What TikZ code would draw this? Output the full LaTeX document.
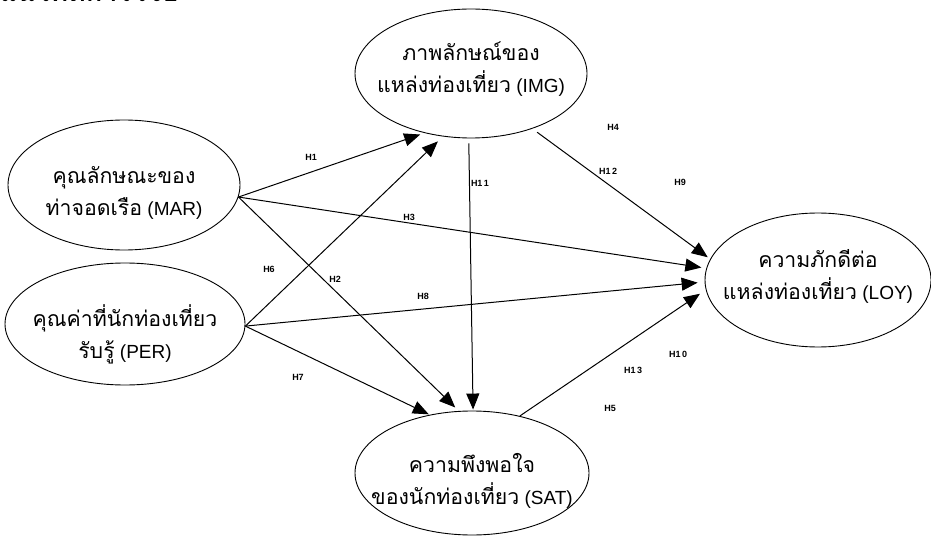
\documentclass[tikz,border=0pt]{standalone}
\usepackage{fontspec}
\setmainfont{Liberation Sans}
\newfontfamily\thaifont[Script=Thai,Scale=1.12]{Loma}
\usetikzlibrary{arrows.meta,shapes.geometric}
\tikzset{%
	construct/.style = {draw, ellipse, line width=0.9pt, inner sep=0pt},
	cname/.style     = {align=center, font=\fontsize{19}{32}\selectfont},
	hyp/.style       = {line width=1pt, -{Triangle[length=16pt,width=13pt]}},
	hlabel/.style    = {font=\fontsize{9}{10}\selectfont\bfseries, inner sep=0pt},
}

\begin{document}
\begin{tikzpicture}[x=1pt,y=-1pt]
	\clip (0,0) rectangle (931,545);
	\node[anchor=base east, font=\fontsize{24}{26}\selectfont\bfseries\thaifont] (title) at (182,2) {กรอบแนวคิดการวิจัย};
	
	% constructs
	\node[construct, minimum width=232pt, minimum height=130pt, label={[cname,yshift=-8pt]center:{\thaifont คุณลักษณะของ}\\{\thaifont ท่าจอดเรือ} (MAR)}] (mar) at (124,185) {};
	\node[construct, minimum width=240pt, minimum height=122pt, label={[cname,yshift=-10pt]center:{\thaifont คุณค่าที่นักท่องเที่ยว}\\{\thaifont รับรู้} (PER)}] (per) at (125,324) {};
	\node[construct, minimum width=232pt, minimum height=129pt, label={[cname,yshift=4pt]center:{\thaifont ภาพลักษณ์ของ}\\{\thaifont แหล่งท่องเที่ยว} (IMG)}] (img) at (471,73.5) {};
	\node[construct, minimum width=226pt, minimum height=134pt, label={[cname,yshift=4pt]center:{\thaifont ความภักดีต่อ}\\{\thaifont แหล่งท่องเที่ยว} (LOY)}] (loy) at (818,280) {};
	\node[construct, minimum width=234pt, minimum height=124pt, label={[cname,yshift=-8pt]center:{\thaifont ความพึงพอใจ}\\{\thaifont ของนักท่องเที่ยว} (SAT)}] (sat) at (472,473) {};
	
	% hypotheses
	\draw[hyp, shorten >=4.5pt] (mar.-6) -- (img.232);
	\draw[hyp, shorten >=5pt] (mar.-6) -- (sat.102);
	\draw[hyp, shorten >=5pt] (mar.-6) -- (loy.174);
	\draw[hyp, shorten >=7pt] (per.-1) -- (img.246);
	\draw[hyp, shorten >=1pt] (per.-1) -- (sat.126);
	\draw[hyp, shorten >=7pt] (per.-1) -- (loy.181);
	\draw[hyp, shorten <=5pt, shorten >=1pt] (img.268) -- (sat.89);
	\draw[hyp, shorten <=6pt, shorten >=3pt] (img.-42) -- (loy.169);
	\draw[hyp, shorten >=7pt] (sat.50) -- (loy.185);
	
	\node[hlabel] (h1) at (311,157) {H1};
	\node[hlabel] (h2) at (335,279) {H2};
	\node[hlabel] (h3) at (409,217) {H3};
	\node[hlabel] (h4) at (613,127) {H4};
	\node[hlabel] (h5) at (610,408) {H5};
	\node[hlabel] (h6) at (269,269) {H6};
	\node[hlabel] (h7) at (298,377) {H7};
	\node[hlabel] (h8) at (423,296) {H8};
	\node[hlabel] (h9) at (680,182) {H9};
	\node[hlabel] (h10) at (678,354) {H1\,0};
	\node[hlabel] (h11) at (480,183) {H1\,1};
	\node[hlabel] (h12) at (608,171) {H1\,2};
	\node[hlabel] (h13) at (633,370) {H1\,3};
\end{tikzpicture}
\end{document}
